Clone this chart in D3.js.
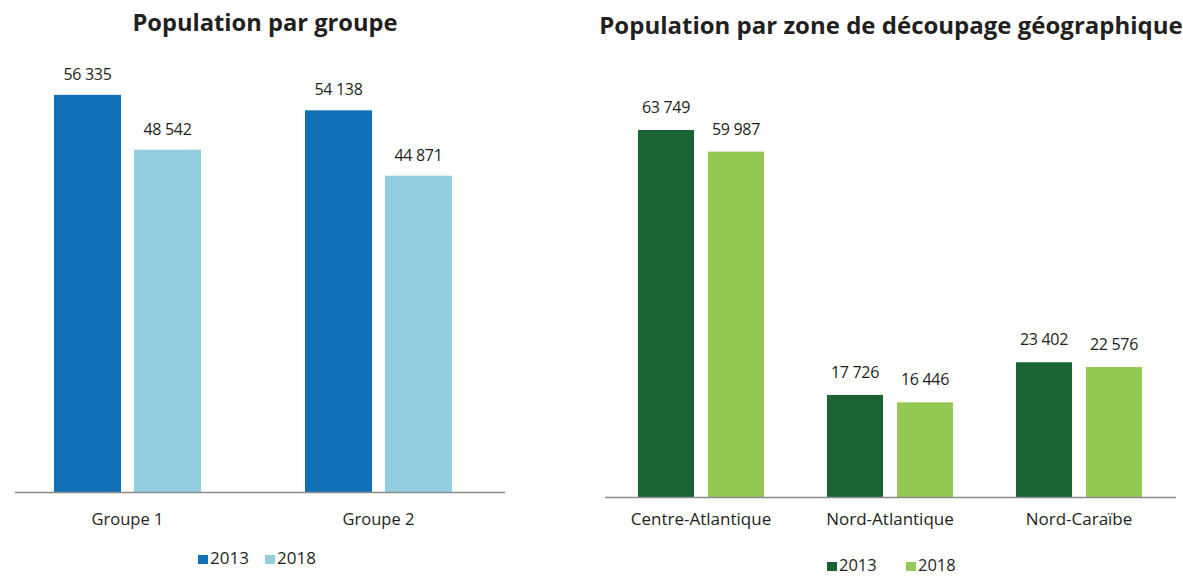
<!DOCTYPE html>
<html>
<head>
<meta charset="utf-8">
<script src="https://cdn.jsdelivr.net/npm/d3@7"></script>
<style>
    body { margin: 0; background: #fff; }
    svg text { font-family: "Open Sans", Lato, sans-serif; fill: #231f20; }
</style>
</head>
<body>
<div id="graph"></div>
<script>
// donnees
const annees = ["2013", "2018"];
const groupes = ["Groupe 1", "Groupe 2"];
const groupe2013 = [56335, 54138];
const groupe2018 = [48542, 44871];
const zones = ["Centre-Atlantique", "Nord-Atlantique", "Nord-Caraïbe"];
const zone2013 = [63749, 17726, 23402];
const zone2018 = [59987, 16446, 22576];

const width = 1183, height = 577;

const svg = d3.select("#graph")
    .append("svg")
    .attr("width", width)
    .attr("height", height);

// format "56 335"
function fmt(v) {
    return d3.format(",")(v).replace(/,/g, " ");
}

function drawChart(opt) {
    const g = svg.append("g");
    const rows = opt.cats.map(function (c, i) {
        return { cat: c, values: [opt.s1[i], opt.s2[i]] };
    });

    const x0 = d3.scaleBand().domain(opt.cats).range(opt.xRange).padding(0);
    const x1 = d3.scaleBand().domain(annees).range(opt.innerRange).paddingInner(opt.innerPad);
    const y = d3.scaleLinear().domain([0, opt.yMax]).range([opt.base, opt.yTop]);

    // titre
    g.append("text")
        .attr("x", opt.titleX)
        .attr("y", opt.titleY)
        .attr("text-anchor", "middle")
        .style("font-size", opt.titleSize + "px")
        .style("font-weight", "bold")
        .text(opt.title);

    const grp = g.selectAll(".grp")
        .data(rows)
        .enter()
        .append("g")
        .attr("transform", function (d) { return "translate(" + x0(d.cat) + ",0)"; });

    grp.selectAll("rect")
        .data(function (d) { return d.values.map(function (v, i) { return { an: annees[i], v: v }; }); })
        .enter()
        .append("rect")
        .attr("x", function (d) { return x1(d.an); })
        .attr("width", x1.bandwidth())
        .attr("y", function (d) { return y(d.v); })
        .attr("height", function (d) { return opt.base - y(d.v); })
        .attr("fill", function (d, i) { return opt.colors[i]; });

    grp.selectAll(".val")
        .data(function (d) { return d.values.map(function (v, i) { return { an: annees[i], v: v }; }); })
        .enter()
        .append("text")
        .attr("class", "val")
        .attr("x", function (d) { return x1(d.an) + x1.bandwidth() / 2; })
        .attr("y", function (d) { return y(d.v) - opt.valGap; })
        .attr("text-anchor", "middle")
        .style("font-size", opt.valSize + "px")
        .style("letter-spacing", "-0.3px")
        .text(function (d) { return fmt(d.v); });

    // axe x
    const axis = g.append("g")
        .attr("transform", "translate(0," + opt.base + ")")
        .call(d3.axisBottom(x0).tickSize(0));
    axis.select(".domain").remove();
    axis.selectAll("text")
        .attr("y", opt.labelDy)
        .attr("dy", null)
        .style("font-size", opt.labelSize + "px")
        .style("font-family", null)
        .attr("fill", null);

    g.append("line")
        .attr("x1", opt.axisX[0])
        .attr("x2", opt.axisX[1])
        .attr("y1", opt.base + 0.5)
        .attr("y2", opt.base + 0.5)
        .attr("stroke", "#8c8c8c")
        .attr("stroke-width", 1.6);

    // legende
    const leg = g.selectAll(".leg")
        .data(annees)
        .enter()
        .append("g")
        .attr("transform", function (d, i) { return "translate(" + opt.legX[i] + "," + opt.legY + ")"; });
    leg.append("rect")
        .attr("x", 0)
        .attr("y", -9)
        .attr("width", 10)
        .attr("height", 9)
        .attr("fill", function (d, i) { return opt.colors[i]; });
    leg.append("text")
        .attr("x", 12)
        .attr("y", 0)
        .style("font-size", opt.legSize + "px")
        .text(function (d) { return d; });
}

drawChart({
    title: "Population par groupe",
    titleX: 265, titleY: 31, titleSize: 23.7,
    cats: groupes, s1: groupe2013, s2: groupe2018,
    colors: ["#1270b7", "#93cde0"],
    xRange: [2, 504], innerRange: [52, 199], innerPad: 0.1625,
    base: 492, yMax: 60000, yTop: 69,
    valGap: 15, valSize: 16,
    labelDy: 33, labelSize: 16.5,
    axisX: [15, 505],
    legX: [198, 265], legY: 564, legSize: 17
});

drawChart({
    title: "Population par zone de découpage géographique",
    titleX: 891, titleY: 34, titleSize: 24,
    cats: zones, s1: zone2013, s2: zone2018,
    colors: ["#1a6434", "#93c954"],
    xRange: [606.5, 1173.5], innerRange: [31.5, 157.5], innerPad: 0.2,
    base: 497, yMax: 70000, yTop: 94,
    valGap: 17, valSize: 16,
    labelDy: 28, labelSize: 17,
    axisX: [605, 1176],
    legX: [827, 906], legY: 571, legSize: 16.5
});
</script>
</body>
</html>
